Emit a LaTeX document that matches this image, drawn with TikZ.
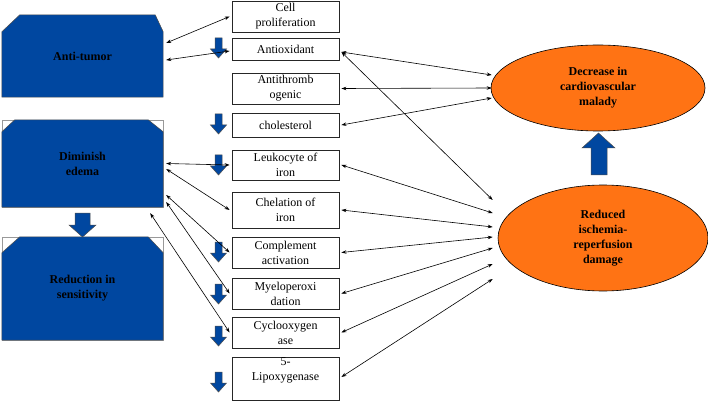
\documentclass[tikz,border=0pt]{standalone}
\usepackage{fontspec}
\setmainfont{Liberation Serif}
\usetikzlibrary{arrows.meta,calc,shapes.geometric,backgrounds}
\definecolor{bblue}{RGB}{0,71,160}
\definecolor{orng}{RGB}{255,115,20}
\begin{document}
\begin{tikzpicture}[x=1pt,y=-1pt,
  mbox/.style={draw=black!85,line width=0.8pt,fill=white,inner sep=0pt,minimum width=107pt,align=center,font=\fontsize{12}{15}\selectfont},
  bluebox/.style={inner sep=0pt,minimum width=161pt,align=center,font=\fontsize{12}{15}\selectfont\bfseries},
  ell/.style={ellipse,draw=black,line width=0.6pt,fill=orng,inner sep=0pt,align=center,font=\fontsize{12}{15}\selectfont\bfseries},
  conn/.style={{Stealth[length=5pt,width=3.5pt]}-{Stealth[length=5pt,width=3.5pt]},line width=0.6pt},
  blk/.style={fill=bblue,draw=black!70,line width=0.5pt},
  grayrect/.style={draw=black!40,line width=0.5pt},
  sdown/.pic={\draw[blk] (-3.5,0) -- (3.5,0) -- (3.5,11) -- (8,11) -- (0,20) -- (-8,11) -- (-3.5,11) -- cycle;}
]
\useasboundingbox (0,0) rectangle (708,403);

% left blue boxes (text nodes)
\node[bluebox,minimum height=82pt] (anti) at (82.5,56) {Anti-tumor};
\node[bluebox,minimum height=87pt] (edema) at (82.5,163.5) {Diminish\\edema};
\node[bluebox,minimum height=103pt] (reduc) at (82.5,288.5) {Reduction in\\sensitivity};

\begin{scope}[on background layer]
  \draw[blk] (anti.south west) -- ($(anti.north west)+(0,17)$) -- ($(anti.north west)+(18,0)$)
     -- ($(anti.north east)+(-8,0)$) -- ($(anti.north east)+(0,17)$) -- (anti.south east) -- cycle;
  \draw[grayrect] (edema.south west) rectangle (edema.north east);
  \draw[blk] (edema.south west) -- ($(edema.north west)+(0,12)$) -- ($(edema.north west)+(13,0)$)
     -- ($(edema.north east)+(-15,0)$) -- ($(edema.north east)+(0,12)$) -- (edema.south east) -- cycle;
  \draw[grayrect] (reduc.south west) rectangle (reduc.north east);
  \draw[blk] (reduc.south west) -- ($(reduc.north west)+(0,16)$) -- ($(reduc.north west)+(18,0)$)
     -- ($(reduc.north east)+(-15,0)$) -- ($(reduc.north east)+(0,16)$) -- (reduc.south east) -- cycle;
\end{scope}

% middle boxes
\node[mbox,minimum height=31pt] (cellp) at (285.5,16.5) {Cell\\proliferation};
\node[mbox,minimum height=22pt] (antiox) at (285.5,49) {Antioxidant};
\node[mbox,minimum height=31pt] (antithr) at (285.5,88.5) {Antithromb\\ogenic};
\node[mbox,minimum height=24pt] (chol) at (285.5,125) {cholesterol};
\node[mbox,minimum height=30pt] (leuko) at (285.5,165) {Leukocyte of\\iron};
\node[mbox,minimum height=36pt] (chel) at (285.5,210) {Chelation of\\iron};
\node[mbox,minimum height=31pt] (compl) at (285.5,252.5) {Complement\\activation};
\node[mbox,minimum height=31pt] (myelo) at (285.5,293.5) {Myeloperoxi\\dation};
\node[mbox,minimum height=31pt] (cyclo) at (285.5,332.5) {Cyclooxygen\\ase};
\node[mbox,minimum height=43pt] (lipo) at (285.5,378.5) {};
\node[align=center,inner sep=0pt,font=\fontsize{12}{15}\selectfont] (lipot) at (285.5,370.5) {5-\\Lipoxygenase};

% ellipses
\node[ell,minimum width=214pt,minimum height=86pt] (dec) at (598,88) {Decrease in\\cardiovascular\\malady};
\node[ell,minimum width=210pt,minimum height=106pt] (red) at (603,238) {Reduced\\ischemia-\\reperfusion\\damage};

% small down arrows
\foreach \yy in {38,114,155,242,284,326,372} \pic at (218.5,\yy) {sdown};

% big block arrows
\draw[blk] (75,213) -- (90,213) -- (90,225) -- (96,225) -- (82.5,237) -- (69,225) -- (75,225) -- cycle;
\draw[blk] (591,175) -- (607,175) -- (607,148) -- (615,148) -- (598.5,133) -- (582,148) -- (591,148) -- cycle;

% free ends at the ellipses
\coordinate (d1) at ([xshift=1pt,yshift=13pt]dec.west);
\coordinate (d2) at ([xshift=1pt]dec.west);
\coordinate (d3) at ([xshift=1pt,yshift=-10pt]dec.west);
\coordinate (r1) at ([xshift=-5pt,yshift=38pt]red.west);
\coordinate (r2) at ([xshift=-5pt,yshift=25pt]red.west);
\coordinate (r3) at ([xshift=-5pt,yshift=11pt]red.west);
\coordinate (r4) at ([xshift=-5pt,yshift=1pt]red.west);
\coordinate (r5) at ([xshift=-5pt,yshift=-10pt]red.west);
\coordinate (r6) at ([xshift=-5pt,yshift=-26pt]red.west);
\coordinate (r7) at ([xshift=-5pt,yshift=-41pt]red.west);

% left connectors
\draw[conn] ([xshift=3pt,yshift=13pt]anti.east) -- ([xshift=-2pt]cellp.west);
\draw[conn] ([xshift=3pt,yshift=-4pt]anti.east) -- ([xshift=-2pt,yshift=-2pt]antiox.west);
\draw[conn] ([xshift=3pt]edema.east) -- ([xshift=-2pt]leuko.west);
\draw[conn] ([xshift=3pt,yshift=-5.5pt]edema.east) -- ([xshift=-2pt]chel.west);
\draw[conn] ([xshift=3pt,yshift=-31.5pt]edema.east) -- ([xshift=-2pt]compl.west);
\draw[conn] ([xshift=3pt,yshift=-38.5pt]edema.east) -- ([xshift=-2pt]myelo.west);
\draw[conn] ([xshift=-13pt,yshift=-6pt]edema.south east) -- ([xshift=-2pt]cyclo.west);

% right connectors
\draw[conn] ([xshift=2pt,yshift=-3pt]antiox.east) -- (d1);
\draw[conn] ([xshift=2pt]antithr.east) -- (d2);
\draw[conn] ([xshift=2pt]chol.east) -- (d3);
\draw[conn] ([xshift=2pt,yshift=-3pt]antiox.east) -- (r1);
\draw[conn] ([xshift=2pt]leuko.east) -- (r2);
\draw[conn] ([xshift=2pt]chel.east) -- (r3);
\draw[conn] ([xshift=2pt]compl.east) -- (r4);
\draw[conn] ([xshift=2pt]myelo.east) -- (r5);
\draw[conn] ([xshift=2pt]cyclo.east) -- (r6);
\draw[conn] ([xshift=2pt,yshift=1.5pt]lipo.east) -- (r7);
\end{tikzpicture}
\end{document}
